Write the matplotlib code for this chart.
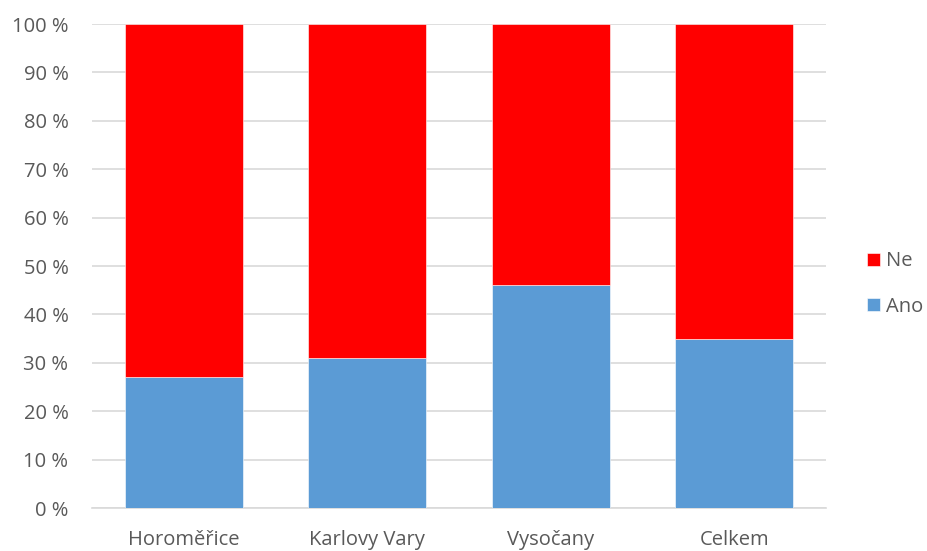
import matplotlib.pyplot as plt
import numpy as np
from matplotlib.ticker import FuncFormatter

# Data
kategorie = ['Horoměřice', 'Karlovy Vary', 'Vysočany', 'Celkem']
ano = [27.0, 31.0, 46.0, 35.0]
ne = [100 - a for a in ano]

plt.rcParams['font.family'] = ['Open Sans', 'DejaVu Sans']
barva_text = '#595959'

fig = plt.figure(figsize=(9.27, 5.51), dpi=100)
ax = fig.add_axes([92 / 927, 1 - 508 / 551, (826 - 92) / 927, (508 - 24) / 551])

x = np.arange(len(kategorie))
sirka = 0.645
b_ano = ax.bar(x, ano, sirka, color='#5b9bd5', label='Ano', zorder=3,
               edgecolor='white', linewidth=0.4)
b_ne = ax.bar(x, ne, sirka, bottom=ano, color='#ff0000', label='Ne', zorder=3,
              edgecolor='white', linewidth=0.4)

ax.set_xlim(-0.5, len(kategorie) - 0.5)
ax.set_ylim(0, 100)
ax.set_yticks(np.arange(0, 101, 10))
ax.yaxis.set_major_formatter(FuncFormatter(lambda v, p: f'{int(v)} %'))
ax.set_xticks(x)
ax.set_xticklabels(kategorie)

ax.grid(axis='y', color='#d9d9d9', linewidth=1.2, zorder=0)
for s in ['top', 'right', 'left']:
    ax.spines[s].set_visible(False)
ax.spines['bottom'].set_color('#d9d9d9')
ax.spines['bottom'].set_linewidth(1.2)
ax.tick_params(axis='both', length=0, colors=barva_text, labelsize=14.5)
ax.tick_params(axis='y', pad=17)
ax.tick_params(axis='x', pad=16)

leg = fig.legend(handles=[b_ne, b_ano], labels=['Ne', 'Ano'],
                 loc='center left', bbox_to_anchor=(857 / 927, 1 - 284 / 551),
                 frameon=False, fontsize=14.5, handlelength=0.65, handleheight=0.65,
                 handletextpad=0.3, labelspacing=1.25, borderpad=0)
for t in leg.get_texts():
    t.set_color(barva_text)

plt.savefig('out.png', dpi=100)
